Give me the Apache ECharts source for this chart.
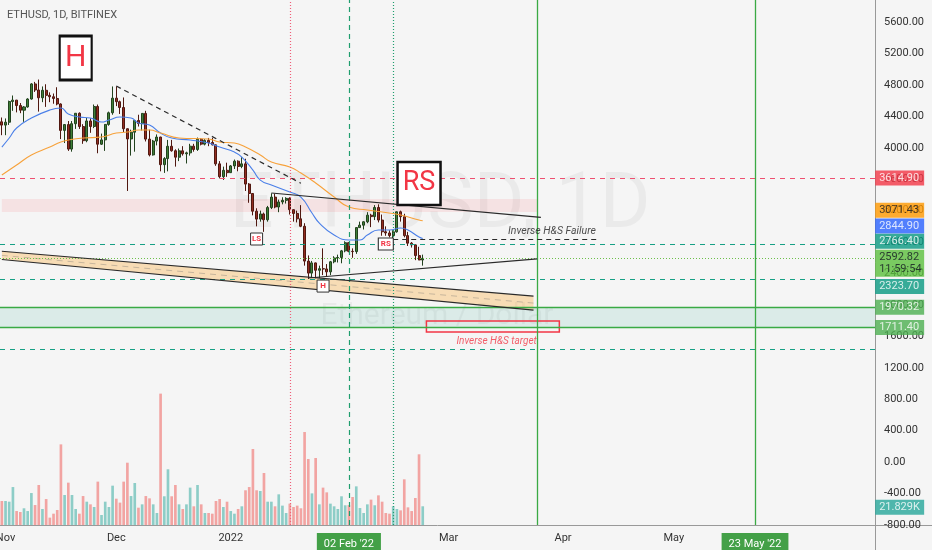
<!DOCTYPE html>
<html lang="en" style="height: 100%">
  <head>
    <meta charset="utf-8" />
    <script src="https://cdn.jsdelivr.net/npm/echarts@6/dist/echarts.min.js"></script>
  </head>
  <body style="height: 100%; margin: 0; background: #f5f5f5">
    <div id="container" style="width: 932px; height: 550px"></div>

    <script type="text/javascript">
      // ---- values ----
      var startDay = Date.UTC(2021, 9, 31);
      var dayCount = 237;

      // daily candles from 31 Oct 2021: [open, high, low, close]
      var candles = [
        [4330, 4385, 4160, 4288],
        [4288, 4373, 4160, 4325], [4325, 4600, 4290, 4588], [4588, 4665, 4470, 4606],
        [4606, 4609, 4450, 4537], [4537, 4569, 4440, 4478], [4478, 4530, 4330, 4519],
        [4519, 4630, 4510, 4620], [4620, 4822, 4612, 4812], [4812, 4838, 4710, 4735],
        [4735, 4868, 4460, 4636], [4636, 4780, 4580, 4731], [4731, 4808, 4520, 4667],
        [4667, 4705, 4580, 4649], [4649, 4690, 4560, 4627], [4627, 4770, 4540, 4557],
        [4557, 4565, 4110, 4221], [4221, 4300, 4060, 4295], [4295, 4340, 3960, 3983],
        [3983, 4340, 3950, 4306], [4306, 4440, 4240, 4439], [4439, 4450, 4240, 4270],
        [4270, 4300, 4050, 4090], [4090, 4380, 4070, 4341], [4341, 4375, 4190, 4271],
        [4271, 4550, 4250, 4525], [4525, 4550, 3930, 4045], [4045, 4180, 4035, 4100],
        [4100, 4300, 3960, 4297], [4297, 4460, 4280, 4445], [4445, 4780, 4420, 4631],
        [4631, 4780, 4530, 4586], [4586, 4600, 4430, 4512], [4512, 4640, 4200, 4242],
        [4242, 4245, 3450, 4112], [4112, 4230, 3900, 4198], [4198, 4350, 3950, 4347],
        [4347, 4420, 4270, 4308], [4308, 4440, 4220, 4437], [4437, 4470, 4080, 4110],
        [4110, 4230, 3890, 3909], [3909, 4100, 3900, 4085], [4085, 4170, 4030, 4136],
        [4136, 4140, 3700, 3785], [3785, 3880, 3680, 3862], [3862, 4100, 3700, 4019],
        [4019, 4100, 3950, 3962], [3962, 3980, 3760, 3880], [3880, 3990, 3830, 3961],
        [3961, 4020, 3900, 3923], [3923, 3950, 3800, 3935], [3935, 4050, 3900, 4020],
        [4020, 4050, 3950, 3978], [3978, 4130, 3960, 4109], [4109, 4120, 4030, 4046],
        [4046, 4110, 4030, 4093], [4093, 4125, 4020, 4067], [4067, 4125, 4030, 4037],
        [4037, 4040, 3770, 3795], [3795, 3830, 3610, 3632], [3632, 3760, 3590, 3713],
        [3713, 3810, 3630, 3683],
        [3683, 3780, 3680, 3769], [3769, 3850, 3730, 3829], [3829, 3840, 3700, 3762],
        [3762, 3880, 3740, 3795], [3795, 3860, 3450, 3538], [3538, 3550, 3300, 3418],
        [3418, 3420, 3140, 3193], [3193, 3230, 3000, 3092], [3092, 3200, 3060, 3158],
        [3158, 3175, 2930, 3083], [3083, 3260, 3060, 3239], [3239, 3420, 3220, 3372],
        [3372, 3415, 3230, 3246], [3246, 3340, 3180, 3310], [3310, 3370, 3280, 3331],
        [3331, 3370, 3290, 3356], [3356, 3370, 3150, 3212], [3212, 3220, 3060, 3164],
        [3164, 3200, 3050, 3096], [3096, 3270, 2990, 3001], [3001, 3040, 2500, 2558],
        [2558, 2630, 2330, 2405], [2405, 2560, 2350, 2535], [2535, 2540, 2340, 2441],
        [2441, 2500, 2340, 2461], [2461, 2720, 2380, 2458], [2458, 2520, 2360, 2421],
        [2421, 2560, 2380, 2549], [2549, 2620, 2530, 2598], [2598, 2640, 2540, 2604],
        [2604, 2700, 2530, 2688],
        [2688, 2810, 2670, 2792], [2792, 2800, 2670, 2682], [2682, 2720, 2600, 2679],
        [2679, 2990, 2650, 2984], [2984, 3060, 2980, 3015], [3015, 3065, 2960, 3058],
        [3058, 3180, 3040, 3142], [3142, 3160, 2990, 3124], [3124, 3270, 3080, 3240],
        [3240, 3280, 3050, 3080], [3080, 3150, 2880, 2931], [2931, 3000, 2880, 2916],
        [2916, 2950, 2860, 2883], [2883, 2950, 2830, 2930], [2930, 3190, 2920, 3185],
        [3185, 3200, 3060, 3123], [3123, 3160, 2860, 2882], [2882, 2930, 2750, 2786],
        [2786, 2800, 2730, 2764], [2764, 2770, 2570, 2628], [2628, 2740, 2570, 2572],
        [2572, 2640, 2500, 2592.82]
      ];

      // daily volume, thousands of ETH
      var volumes = [
        28.0, 28.0, 27.2, 44.3, 16.3, 15.2, 19.5, 16.3, 37.3, 23.3,
        46.7, 18.7, 30.3, 8.6, 13.2, 17.5, 94.1, 35.0, 49.4, 35.0,
        18.7, 13.2, 33.8, 27.2, 24.1, 21.0, 50.6, 11.7, 27.2, 21.0,
        45.9, 30.7, 26.1, 50.6, 72.7, 33.8, 49.0, 20.2, 24.1, 33.8,
        31.1, 24.1, 14.0, 153.3, 33.5, 65.0, 33.5, 46.7, 24.1, 18.7,
        24.1, 43.6, 21.8, 46.7, 24.1, 14.0, 14.0, 13.2, 28.0, 30.3,
        21.0, 27.2, 16.3, 13.2, 18.7, 21.8, 40.5, 44.3, 88.7, 40.5,
        39.7, 60.7, 27.2, 27.2, 21.8, 35.8, 22.6, 14.0, 24.9, 21.0,
        22.6, 19.5, 108.5, 77.0, 36.9, 78.2, 24.1, 43.6, 38.1, 24.9,
        21.8, 18.7, 33.5, 23.0, 23.3, 32.7, 45.1, 19.8, 14.0, 24.1,
        29.6, 23.0, 34.6, 27.2, 14.0, 13.2, 21.8, 18.7, 17.1, 53.3,
        20.6, 16.3, 31.5, 82.5, 21.829
      ];

      // moving averages as drawn (blue fast, orange slow)
      var maFast = [
        ["2021-10-31", 4009], ["2021-11-02", 4124], ["2021-11-04", 4251], ["2021-11-08", 4378],
        ["2021-11-13", 4480], ["2021-11-16", 4505], ["2021-11-18", 4429], ["2021-11-21", 4391],
        ["2021-11-24", 4378], ["2021-11-27", 4327], ["2021-11-29", 4353], ["2021-12-02", 4391],
        ["2021-12-05", 4378], ["2021-12-07", 4315], ["2021-12-10", 4289], ["2021-12-13", 4187],
        ["2021-12-16", 4124], ["2021-12-21", 4098], ["2021-12-26", 4060], ["2021-12-29", 4009],
        ["2022-01-02", 3945], ["2022-01-04", 3882], ["2022-01-07", 3716], ["2022-01-09", 3589],
        ["2022-01-12", 3526], ["2022-01-17", 3437], ["2022-01-20", 3373], ["2022-01-23", 3170],
        ["2022-01-25", 3042], ["2022-01-29", 2890], ["2022-02-02", 2826], ["2022-02-05", 2826],
        ["2022-02-07", 2890], ["2022-02-10", 2953], ["2022-02-13", 2953], ["2022-02-16", 2979],
        ["2022-02-18", 2953], ["2022-02-21", 2864], ["2022-02-22", 2844.9]
      ];
      var maSlow = [
        ["2021-10-31", 3653], ["2021-11-04", 3780], ["2021-11-08", 3907], ["2021-11-13", 4009],
        ["2021-11-16", 4073], ["2021-11-18", 4098], ["2021-11-22", 4124], ["2021-11-27", 4136],
        ["2021-12-01", 4187], ["2021-12-04", 4200], ["2021-12-07", 4225], ["2021-12-10", 4225],
        ["2021-12-13", 4187], ["2021-12-18", 4124], ["2021-12-26", 4111], ["2021-12-29", 4073],
        ["2022-01-02", 4060], ["2022-01-05", 4009], ["2022-01-09", 3907], ["2022-01-12", 3818],
        ["2022-01-17", 3755], ["2022-01-20", 3678], ["2022-01-24", 3551], ["2022-01-29", 3373],
        ["2022-02-02", 3246], ["2022-02-07", 3208], ["2022-02-11", 3182], ["2022-02-16", 3144],
        ["2022-02-21", 3080], ["2022-02-22", 3071.43]
      ];

      // axis tick labels
      var monthDays = ["2021-11-01", "2021-12-01", "2022-01-01", "2022-03-01", "2022-04-01", "2022-05-01"];
      var monthNames = ["Nov", "Dec", "2022", "Mar", "Apr", "May"];
      var markedDays = ["2022-02-02", "2022-05-23"];
      var markedNames = ["02 Feb '22", "23 May '22"];

      // horizontal levels
      var resistance = 3614.9;
      var supports = [2766.4, 2323.7, 1435];
      var lastClose = 2592.82;
      var zoneLow = 1711.4;
      var zoneHigh = 1970.32;
      var redBand = [3182, 3347];

      // value tags on the price scale
      var tagValues = [3614.9, 3071.43, 2844.9, 2766.4, 2592.82, 2323.7, 1970.32, 1711.4];
      var tagExtra = ["", "", "", "", "11:59:54", "", "", ""];

      // drawings: [date, price]
      var trendDash = [["2021-12-01", 4785], ["2022-01-20", 3548]];
      var neckline = [["2022-01-12", 3424], ["2022-03-26", 3113]];
      var riseLine = [["2022-01-22", 2343], ["2022-03-25", 2587]];
      var failLine = [["2022-02-14", 2840], ["2022-04-10", 2840]];
      var channelTop = [["2021-10-31", 2683], ["2022-03-24", 2112]];
      var channelBottom = [["2021-10-31", 2578], ["2022-03-24", 1935]];
      var targetBox = [["2022-02-23", 1795], ["2022-03-31", 1655]];
      var bandEnd = "2022-03-25";
      var verticals = ["2022-01-17", "2022-02-02", "2022-02-14", "2022-03-25", "2022-05-23"];

      var bigTags = [["2021-11-20", 5141, "H"], ["2022-02-21", 3545, "RS"]];
      var smallTags = [["2022-01-08", 2839, "LS"], ["2022-01-26", 2240, "H"], ["2022-02-12", 2775, "RS"]];
      var notes = [["2022-03-29", 2933, "Inverse H&S Failure"], ["2022-03-14", 1541, "Inverse H&S target"]];

      // ---- build chart ----
      var dates = [];
      for (var i = 0; i < dayCount; i++) {
        dates.push(new Date(startDay + i * 86400000).toISOString().slice(0, 10));
      }
      function at(d) {
        return dates.indexOf(d);
      }
      function pt(p) {
        return [at(p[0]), p[1]];
      }
      function segment(pair, style) {
        return [{ coord: pt(pair[0]), lineStyle: style }, { coord: pt(pair[1]) }];
      }

      var solidBlack = { color: "#2a2a2a", width: 1.2, type: "solid" };
      var dashBlack = { color: "#2a2a2a", width: 1.2, type: [5, 4] };
      var greenSolid = { color: "#3aaa44", width: 1.3, type: "solid" };

      var tagStyles = [
        { bg: "#f23645", fg: "#fff", dy: 0 },
        { bg: "#ff9800", fg: "#131722", dy: -10.5 },
        { bg: "#2962ff", fg: "#fff", dy: -12.5 },
        { bg: "#089981", fg: "#fff", dy: -3.5 },
        { bg: "#5bbf3c", fg: "#131722", dy: 5 },
        { bg: "#089981", fg: "#fff", dy: 7 },
        { bg: "#4caf50", fg: "#fff", dy: 0 },
        { bg: "#4caf50", fg: "#fff", dy: 0 }
      ];

      var dom = document.getElementById("container");
      var myChart = echarts.init(dom, null, { renderer: "canvas" });

      var lastIdx = dayCount - 1;

      var option = {
        animation: false,
        backgroundColor: "#f5f5f5",
        textStyle: { fontFamily: "Roboto" },
        graphic: [
          {
            type: "text", x: 440, y: 207, z: -10, silent: true,
            style: { text: "ETHUSD, 1D", fill: "rgba(0,0,0,0.045)", font: "78px Roboto", align: "center", verticalAlign: "middle" }
          },
          {
            type: "text", x: 437, y: 316, z: -10, silent: true,
            style: { text: "Ethereum / Dollar", fill: "rgba(0,0,0,0.045)", font: "30px Roboto", align: "center", verticalAlign: "middle" }
          },
          {
            type: "text", left: 7, top: 10,
            style: { text: "ETHUSD, 1D, BITFINEX", fill: "#555", font: "11px Roboto" }
          },
          {
            type: "line", shape: { x1: 875, y1: 525.5, x2: 932, y2: 525.5 },
            style: { stroke: "#999", lineWidth: 1 }
          },
          {
            type: "line", shape: { x1: 875.5, y1: 525, x2: 875.5, y2: 550 },
            style: { stroke: "#999", lineWidth: 1 }
          }
        ],
        grid: { left: 0, right: 57, top: 0, bottom: 25, outerBoundsMode: "none", containLabel: false },
        xAxis: {
          type: "category",
          data: dates,
          boundaryGap: true,
          axisLine: { onZero: false, lineStyle: { color: "#999" } },
          axisTick: { show: false },
          splitLine: { show: false },
          axisLabel: {
            color: "#333",
            fontSize: 11,
            margin: 8,
            interval: function (idx, value) {
              return monthDays.indexOf(value) >= 0 || markedDays.indexOf(value) >= 0;
            },
            formatter: function (value) {
              var m = markedDays.indexOf(value);
              if (m >= 0) return "{hl|" + markedNames[m] + "}";
              var k = monthDays.indexOf(value);
              return k >= 0 ? monthNames[k] : "";
            },
            rich: {
              hl: { backgroundColor: "#43a047", color: "#fff", fontSize: 11, padding: [6, 7, 5, 7] }
            }
          }
        },
        yAxis: [
          {
            type: "value",
            position: "right",
            min: -800,
            max: 5880,
            interval: 400,
            axisLine: { show: true, lineStyle: { color: "#999" } },
            axisTick: { show: false },
            splitLine: { show: false },
            axisLabel: {
              color: "#333",
              fontSize: 11,
              margin: 9,
              showMaxLabel: false,
              formatter: function (v) {
                return v.toFixed(2);
              }
            }
          },
          { type: "value", show: false, min: 0, max: 612.7 }
        ],
        series: [
          {
            name: "channel",
            type: "custom",
            silent: true,
            z: 1,
            data: [0],
            renderItem: function (params, api) {
              var a = api.coord(pt(channelTop[0]));
              var b = api.coord(pt(channelTop[1]));
              var c = api.coord(pt(channelBottom[1]));
              var d = api.coord(pt(channelBottom[0]));
              return {
                type: "group",
                children: [
                  { type: "polygon", shape: { points: [a, b, c, d] }, style: { fill: "rgba(255,152,0,0.26)" } },
                  {
                    type: "line",
                    shape: { x1: (a[0] + d[0]) / 2, y1: (a[1] + d[1]) / 2, x2: (b[0] + c[0]) / 2, y2: (b[1] + c[1]) / 2 },
                    style: { stroke: "rgba(110,110,110,0.35)", lineWidth: 1, lineDash: [6, 5] }
                  }
                ]
              };
            }
          },
          {
            name: "Volume",
            type: "bar",
            yAxisIndex: 1,
            barWidth: "72%",
            data: volumes.map(function (v, k) {
              var up = candles[k][3] >= candles[k][0];
              return { value: v, itemStyle: { color: up ? "rgba(38,166,154,0.5)" : "rgba(239,83,80,0.5)" } };
            })
          },
          {
            name: "ETHUSD",
            type: "candlestick",
            barWidth: "68%",
            data: candles.map(function (c) {
              return [c[0], c[3], c[2], c[1]];
            }),
            itemStyle: {
              color: "#3f7f37",
              color0: "#922c20",
              borderColor: "#22421e",
              borderColor0: "#501810",
              borderWidth: 1
            },
            markArea: {
              silent: true,
              data: [
                [
                  { yAxis: zoneLow, itemStyle: { color: "rgba(8,153,129,0.11)" } },
                  { yAxis: zoneHigh }
                ],
                [
                  { xAxis: 0, yAxis: redBand[1], itemStyle: { color: "rgba(242,54,69,0.1)" } },
                  { xAxis: at(bandEnd), yAxis: redBand[0] }
                ],
                [
                  {
                    xAxis: at(targetBox[0][0]), yAxis: targetBox[0][1],
                    itemStyle: { color: "rgba(0,0,0,0)", borderColor: "#f23645", borderWidth: 1.5 }
                  },
                  { xAxis: at(targetBox[1][0]), yAxis: targetBox[1][1] }
                ]
              ]
            },
            markLine: {
              silent: true,
              symbol: ["none", "none"],
              label: { show: false },
              data: [
                { yAxis: resistance, lineStyle: { color: "#ee5070", type: [5, 5], width: 1 } },
                { yAxis: supports[0], lineStyle: { color: "#16a085", type: [5, 5], width: 1.2 } },
                { yAxis: supports[1], lineStyle: { color: "#16a085", type: [5, 5], width: 1.2 } },
                { yAxis: supports[2], lineStyle: { color: "#16a085", type: [5, 5], width: 1.2 } },
                { yAxis: lastClose, lineStyle: { color: "#6cc04a", type: [1, 2], width: 1 } },
                { yAxis: zoneLow, lineStyle: greenSolid },
                { yAxis: zoneHigh, lineStyle: greenSolid },
                { xAxis: at(verticals[0]), lineStyle: { color: "#f0607a", type: [1, 2], width: 1.2 } },
                { xAxis: at(verticals[1]), lineStyle: { color: "#1f9e6e", type: [5, 4], width: 1.2 } },
                { xAxis: at(verticals[2]), lineStyle: { color: "#1f9e6e", type: [1, 2], width: 1.2 } },
                { xAxis: at(verticals[3]), lineStyle: greenSolid },
                { xAxis: at(verticals[4]), lineStyle: greenSolid },
                segment(trendDash, dashBlack),
                segment(neckline, solidBlack),
                segment(riseLine, solidBlack),
                segment(failLine, dashBlack),
                segment(channelTop, solidBlack),
                segment(channelBottom, solidBlack)
              ]
            }
          },
          {
            name: "MA fast",
            type: "line",
            smooth: true,
            showSymbol: false,
            lineStyle: { color: "#4a7fe8", width: 1.1 },
            data: maFast.map(pt)
          },
          {
            name: "MA slow",
            type: "line",
            smooth: true,
            showSymbol: false,
            lineStyle: { color: "#f7a23b", width: 1.1 },
            data: maSlow.map(pt)
          },
          {
            name: "big tags",
            type: "scatter",
            symbol: "rect",
            z: 6,
            data: bigTags.map(function (t) {
              return {
                value: pt(t),
                name: t[2],
                symbolSize: t[2] === "H" ? [32, 44] : [43, 43],
                label: { fontSize: t[2] === "H" ? 30 : 27 }
              };
            }),
            itemStyle: { color: "#fff", borderColor: "#111", borderWidth: 2.5, opacity: 1 },
            label: {
              show: true,
              position: "inside",
              color: "#f23645",
              formatter: function (p) {
                return p.name;
              }
            }
          },
          {
            name: "small tags",
            type: "scatter",
            symbol: "rect",
            z: 6,
            data: smallTags.map(function (t) {
              return { value: pt(t), name: t[2], symbolSize: t[2] === "RS" ? [15, 12] : [12, 12] };
            }),
            itemStyle: { color: "#fff", borderColor: "#333", borderWidth: 1, opacity: 1 },
            label: {
              show: true,
              position: "inside",
              color: "#f23645",
              fontSize: 8,
              fontWeight: "bold",
              formatter: function (p) {
                return p.name;
              }
            }
          },
          {
            name: "notes",
            type: "scatter",
            symbolSize: 0,
            z: 6,
            data: notes.map(function (t, k) {
              return {
                value: pt(t),
                name: t[2],
                label: k === 0 ? { color: "#222", fontSize: 10.5 } : { color: "#f23645", fontSize: 10 }
              };
            }),
            label: {
              show: true,
              position: "inside",
              fontStyle: "italic",
              formatter: function (p) {
                return p.name;
              }
            }
          },
          {
            name: "price tags",
            type: "scatter",
            symbolSize: 0,
            z: 8,
            data: tagValues.map(function (v, k) {
              var s = tagStyles[k];
              return {
                value: [lastIdx, v],
                label: {
                  backgroundColor: s.bg,
                  color: s.fg,
                  offset: [0, s.dy],
                  formatter: v.toFixed(2) + (tagExtra[k] ? "\n" + tagExtra[k] : "")
                }
              };
            }),
            label: {
              show: true,
              position: "right",
              distance: 2,
              fontSize: 11,
              lineHeight: 12,
              width: 41,
              padding: [2, 4, 1, 4]
            }
          },
          {
            name: "volume tag",
            type: "scatter",
            yAxisIndex: 1,
            symbolSize: 0,
            z: 8,
            data: [
              {
                value: [lastIdx, volumes[volumes.length - 1]],
                label: { formatter: volumes[volumes.length - 1].toFixed(3) + "K", offset: [0, 1] }
              }
            ],
            label: {
              show: true,
              position: "right",
              distance: 2,
              fontSize: 11,
              lineHeight: 12,
              width: 41,
              padding: [2, 4, 1, 4],
              backgroundColor: "#26a69a",
              color: "#fff"
            }
          }
        ]
      };

      myChart.setOption(option);
      window.addEventListener("resize", myChart.resize);
    </script>
  </body>
</html>
